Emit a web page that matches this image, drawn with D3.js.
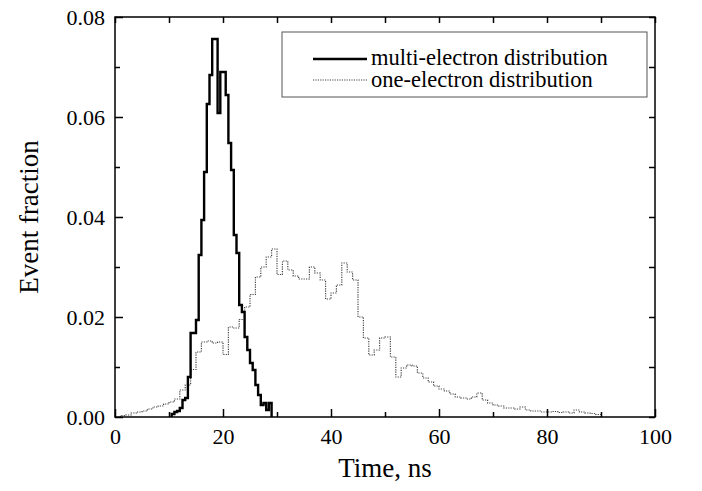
<!DOCTYPE html>
<html>
<head>
<meta charset="utf-8">
<script src="https://cdn.jsdelivr.net/npm/d3@7"></script>
<style>
  body { margin: 0; background: #fff; }
  text { font-family: "Liberation Serif", "Times New Roman", serif; fill: #000; }
</style>
</head>
<body>
<div id="chart"></div>
<script>
// multi-electron histogram: 0.5 ns bins starting at 10.5 ns
var multiStart = 10.5, multiBin = 0.5;
var multiValues = [0.0006, 0.001, 0.0012, 0.0018, 0.0034, 0.0038, 0.008, 0.0168, 0.0168, 0.0194,
                   0.0324, 0.0394, 0.049, 0.0626, 0.0684, 0.0756, 0.0756, 0.0608, 0.069, 0.069,
                   0.0644, 0.0548, 0.0494, 0.0364, 0.0328, 0.0224, 0.021, 0.016, 0.0134, 0.0108,
                   0.0094, 0.0064, 0.0044, 0.0024, 0.0028, 0.0014, 0.0028];

// one-electron histogram: 1 ns bins starting at 1 ns
var oneStart = 1, oneBin = 1;
var oneValues = [0.0003, 0.0004, 0.0008, 0.001, 0.0012, 0.0016, 0.002, 0.0022, 0.0026, 0.003,
                 0.0036, 0.0054, 0.0064, 0.0095, 0.013, 0.015, 0.0152, 0.0148, 0.015, 0.0125,
                 0.018, 0.0178, 0.0195, 0.022, 0.0245, 0.028, 0.030, 0.032, 0.0336, 0.0285,
                 0.0312, 0.0294, 0.0282, 0.0276, 0.0276, 0.030, 0.0288, 0.0274, 0.0236, 0.0248,
                 0.0264, 0.0308, 0.029, 0.0274, 0.020, 0.0158, 0.0124, 0.0134, 0.0158, 0.016,
                 0.012, 0.008, 0.0098, 0.0104, 0.0102, 0.0088, 0.0078, 0.007, 0.0062, 0.0056,
                 0.0052, 0.0046, 0.004, 0.0038, 0.0036, 0.004, 0.0048, 0.0034, 0.0028, 0.0024,
                 0.0022, 0.0018, 0.0018, 0.0016, 0.002, 0.0014, 0.0012, 0.0012, 0.001, 0.001,
                 0.0011, 0.0009, 0.001, 0.0008, 0.0014, 0.001, 0.0008, 0.0007, 0.0005];

var xTicks = [0, 20, 40, 60, 80, 100];
var xMinor = [10, 30, 50, 70, 90];
var yTicks = [0, 0.02, 0.04, 0.06, 0.08];
var yMinor = [0.01, 0.03, 0.05, 0.07];
var legendLabels = ["multi-electron distribution", "one-electron distribution"];

var W = 702, H = 491;
var m = {left: 115, right: 655, top: 17, bottom: 417};
var serif = "'Liberation Serif', 'Times New Roman', serif";

var svg = d3.select("#chart").append("svg")
    .attr("width", W)
    .attr("height", H);

var x = d3.scaleLinear().domain([0, 100]).range([m.left, m.right]);
var y = d3.scaleLinear().domain([0, 0.08]).range([m.bottom, m.top]);

// turn bin values into step points
function steps(start, bin, vals) {
  var pts = [[start, 0]];
  vals.forEach(function(v, i) { pts.push([start + i * bin, v]); });
  pts.push([start + vals.length * bin, vals[vals.length - 1]]);
  pts.push([start + vals.length * bin, 0]);
  return pts;
}

var line = d3.line()
    .x(d => x(d[0]))
    .y(d => y(d[1]))
    .curve(d3.curveStepAfter);

// one-electron (dotted)
svg.append("path")
    .datum(steps(oneStart, oneBin, oneValues))
    .attr("d", line)
    .attr("fill", "none")
    .attr("stroke", "#444")
    .attr("stroke-width", 1.2)
    .attr("stroke-dasharray", "1.2,1.2");

// multi-electron (solid)
svg.append("path")
    .datum(steps(multiStart, multiBin, multiValues))
    .attr("d", line)
    .attr("fill", "none")
    .attr("stroke", "#000")
    .attr("stroke-width", 2.4)
    .attr("stroke-linejoin", "miter");

// axes with inward ticks
function styleAxis(g) {
  g.attr("font-family", serif);
  g.select(".domain").remove();
  g.selectAll(".tick line").attr("stroke", "#000").attr("stroke-width", 1.5);
  g.selectAll("text").style("font-size", "22px").style("font-family", serif).attr("fill", "#000");
}

svg.append("g")
    .attr("transform", "translate(0," + m.bottom + ")")
    .call(d3.axisBottom(x).tickValues(xTicks).tickSize(-8).tickPadding(11).tickFormat(d3.format("d")))
    .call(styleAxis);
svg.append("g")
    .attr("transform", "translate(0," + m.bottom + ")")
    .call(d3.axisBottom(x).tickValues(xMinor).tickSize(-5).tickFormat(""))
    .call(styleAxis);
svg.append("g")
    .attr("transform", "translate(0," + m.top + ")")
    .call(d3.axisTop(x).tickValues(xTicks.concat(xMinor)).tickSize(-6).tickFormat(""))
    .call(styleAxis);

svg.append("g")
    .attr("transform", "translate(" + m.left + ",0)")
    .call(d3.axisLeft(y).tickValues(yTicks).tickSize(-8).tickPadding(10).tickFormat(d3.format(".2f")))
    .call(styleAxis);
svg.append("g")
    .attr("transform", "translate(" + m.left + ",0)")
    .call(d3.axisLeft(y).tickValues(yMinor).tickSize(-5).tickFormat(""))
    .call(styleAxis);
svg.append("g")
    .attr("transform", "translate(" + m.right + ",0)")
    .call(d3.axisRight(y).tickValues(yTicks.concat(yMinor)).tickSize(-6).tickFormat(""))
    .call(styleAxis);

// frame
svg.append("rect")
    .attr("x", m.left).attr("y", m.top)
    .attr("width", m.right - m.left).attr("height", m.bottom - m.top)
    .attr("fill", "none")
    .attr("stroke", "#000")
    .attr("stroke-width", 1.5);

// axis titles
svg.append("text")
    .attr("x", (m.left + m.right) / 2)
    .attr("y", 477)
    .attr("text-anchor", "middle")
    .style("font-size", "27px")
    .text("Time, ns");

svg.append("text")
    .attr("transform", "translate(38," + ((m.top + m.bottom) / 2) + ") rotate(-90)")
    .attr("text-anchor", "middle")
    .style("font-size", "27px")
    .text("Event fraction");

// legend
var lg = svg.append("g");
lg.append("rect")
    .attr("x", 282).attr("y", 32)
    .attr("width", 365).attr("height", 65)
    .attr("fill", "#fff")
    .attr("stroke", "#555")
    .attr("stroke-width", 1);

lg.append("line")
    .attr("x1", 313).attr("x2", 367).attr("y1", 59).attr("y2", 59)
    .attr("stroke", "#000").attr("stroke-width", 2.4);
lg.append("line")
    .attr("x1", 313).attr("x2", 367).attr("y1", 80).attr("y2", 80)
    .attr("stroke", "#444").attr("stroke-width", 1.2).attr("stroke-dasharray", "1.2,1.2");

lg.selectAll("text.lab")
    .data(legendLabels)
    .enter().append("text")
    .attr("class", "lab")
    .attr("x", 371)
    .attr("y", (d, i) => 65 + i * 22)
    .style("font-size", "22.5px")
    .text(d => d);
</script>
</body>
</html>
